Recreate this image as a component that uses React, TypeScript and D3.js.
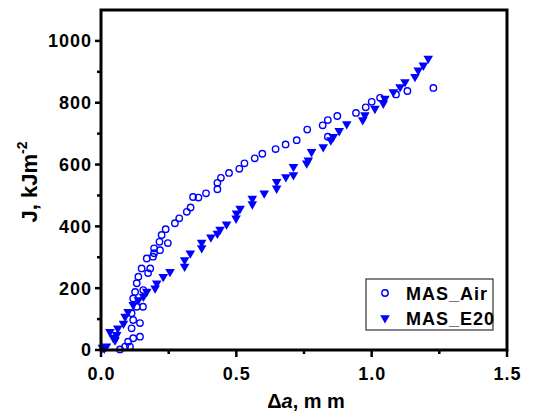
import React from 'react';
import * as d3 from 'd3';

// MAS_Air (open circles): crack growth (mm) vs J (kJ/m^2)
const airDa = [0.070, 0.089, 0.100, 0.107, 0.119, 0.144, 0.113, 0.119, 0.144, 0.113, 0.132, 0.155, 0.119, 0.126, 0.156,
  0.132, 0.138, 0.174, 0.150, 0.182, 0.169, 0.192, 0.196, 0.218, 0.196, 0.216, 0.247, 0.224, 0.239, 0.273, 0.289,
  0.317, 0.331, 0.340, 0.360, 0.388, 0.430, 0.430, 0.443, 0.473, 0.511, 0.530, 0.568, 0.596, 0.645, 0.682, 0.723,
  0.762, 0.838, 0.819, 0.838, 0.873, 0.942, 0.978, 1.000, 1.031, 1.090, 1.132, 1.228];
const airJ = [2, 11, 27, 11, 38, 43, 70, 97, 87, 119, 140, 140, 167, 188, 194,
  216, 237, 249, 264, 264, 296, 302, 313, 323, 329, 350, 346, 372, 391, 410, 426,
  447, 461, 495, 493, 507, 520, 541, 557, 573, 586, 604, 620, 635, 650, 665, 679,
  713, 690, 727, 744, 757, 767, 785, 803, 816, 827, 838, 848];

// MAS_E20 (filled down triangles)
const e20Da = [0.005, 0.012, 0.020, 0.033, 0.045, 0.052, 0.058, 0.062, 0.083, 0.089, 0.100, 0.119, 0.138, 0.157, 0.169, 0.200,
  0.206, 0.230, 0.255, 0.309, 0.309, 0.330, 0.372, 0.372, 0.406, 0.430, 0.440, 0.464, 0.499, 0.501, 0.514, 0.559,
  0.559, 0.603, 0.649, 0.649, 0.683, 0.711, 0.711, 0.760, 0.766, 0.778, 0.821, 0.849, 0.858, 0.880, 0.908, 0.967,
  0.975, 1.012, 1.043, 1.049, 1.080, 1.105, 1.123, 1.160, 1.172, 1.191, 1.209];
const e20J = [8, 5, 12, 59, 40, 32, 49, 70, 86, 108, 124, 146, 162, 173, 189, 200,
  216, 237, 253, 270, 291, 313, 330, 348, 365, 377, 390, 407, 426, 442, 458, 472,
  490, 507, 523, 544, 560, 566, 593, 604, 614, 641, 657, 679, 690, 709, 731, 744,
  760, 781, 798, 814, 835, 851, 867, 884, 905, 921, 943];

const xTicks = [0, 0.5, 1.0, 1.5];
const yTicks = [0, 200, 400, 600, 800, 1000];

const W = 544;
const H = 419;
const left = 101, right = 507, top = 10, bottom = 350;
const blue = '#0000ff';
const font = 'Liberation Sans, Arial, sans-serif';

export default function App() {
  const x = d3.scaleLinear().domain([0, 1.5]).range([left, right]);
  const y = d3.scaleLinear().domain([0, 1100]).range([bottom, top]);

  const xMinor = d3.range(0.25, 1.5, 0.5);
  const yMinor = d3.range(100, 1100, 200);
  const tri = d3.symbol().type(d3.symbolTriangle).size(40)();

  return (
    <svg width={W} height={H} style={{ position: 'absolute', left: 0, top: 0, background: '#fff' }}
      fontFamily={font} fontWeight="bold">
      {/* data */}
      {airDa.map((d, i) => (
        <circle key={'a' + i} cx={x(d)} cy={y(airJ[i])} r={3.2} fill="none" stroke={blue} strokeWidth={1.4} />
      ))}
      {e20Da.map((d, i) => (
        <path key={'e' + i} d={tri!} transform={`translate(${x(d)},${y(e20J[i])}) rotate(180)`} fill={blue} />
      ))}

      {/* frame */}
      <rect x={left} y={top} width={right - left} height={bottom - top} fill="none" stroke="#000" strokeWidth={3} />

      {/* x ticks */}
      {xTicks.map(t => (
        <g key={'xt' + t}>
          <line x1={x(t)} x2={x(t)} y1={bottom} y2={bottom + 7} stroke="#000" strokeWidth={2.5} />
          <text x={x(t) + 0.5} y={380} textAnchor="middle" fontSize={18} letterSpacing={1}>{d3.format('.1f')(t)}</text>
        </g>
      ))}
      {xMinor.map(t => (
        <line key={'xm' + t} x1={x(t)} x2={x(t)} y1={bottom} y2={bottom + 4} stroke="#000" strokeWidth={2.5} />
      ))}

      {/* y ticks */}
      {yTicks.map(t => (
        <g key={'yt' + t}>
          <line x1={left - 6} x2={left} y1={y(t)} y2={y(t)} stroke="#000" strokeWidth={2.5} />
          <text x={92} y={y(t)} dy="0.36em" textAnchor="end" fontSize={18} letterSpacing={1}>{t}</text>
        </g>
      ))}
      {yMinor.map(t => (
        <line key={'ym' + t} x1={left - 4} x2={left} y1={y(t)} y2={y(t)} stroke="#000" strokeWidth={2.5} />
      ))}

      {/* axis titles */}
      <text x={306} y={408} textAnchor="middle" fontSize={20}>
        Δ<tspan fontStyle="italic">a</tspan>, m m
      </text>
      <text transform="translate(37,182) rotate(-90)" textAnchor="middle" fontSize={22}>
        J, kJm<tspan dy="-10" fontSize={14}>-2</tspan>
      </text>

      {/* legend */}
      <rect x={366} y={279} width={127} height={51} fill="#fff" stroke="#333" strokeWidth={1.2} />
      <circle cx={385} cy={293} r={3.2} fill="none" stroke={blue} strokeWidth={1.4} />
      <path d={tri!} transform="translate(385,318) rotate(180)" fill={blue} />
      <text x={406} y={300} fontSize={18} letterSpacing={1}>MAS_Air</text>
      <text x={406} y={325} fontSize={18} letterSpacing={1}>MAS_E20</text>
    </svg>
  );
}
